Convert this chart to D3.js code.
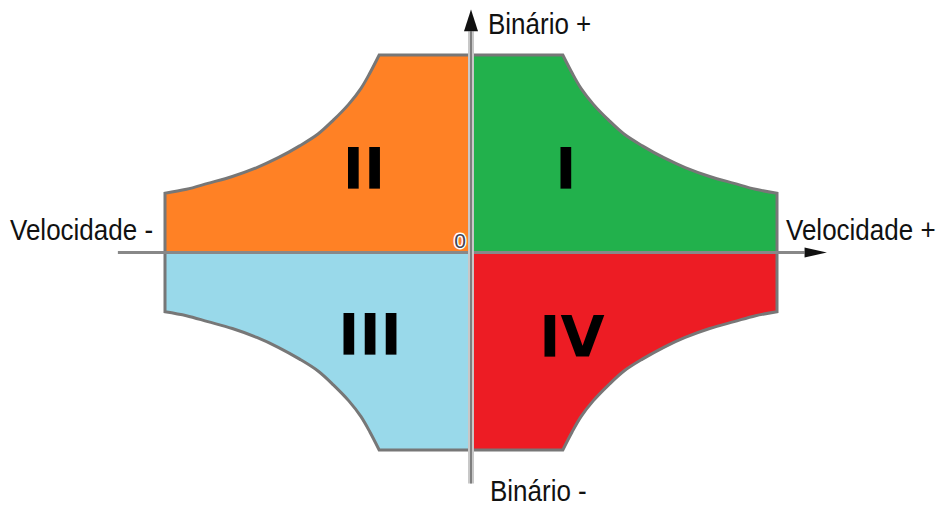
<!DOCTYPE html>
<html lang="pt">
<head>
<meta charset="UTF-8">
<title>Quatro quadrantes</title>
<script src="https://d3js.org/d3.v7.min.js"></script>
<style>
  body { margin: 0; background: #fff; }
  svg { display: block; font-family: "Liberation Sans", Arial, sans-serif; }
  .axis-label { font-size: 26px; fill: #111; }
  .quad-label { font-family: "DejaVu Sans", sans-serif; font-weight: bold; font-size: 57px; fill: #000; text-anchor: middle; }
</style>
</head>
<body>
<svg width="940" height="506"></svg>
<script>
// quadrants: speed sign, torque sign, label, colour
const quadrants = ["I", "II", "III", "IV"];
const speedSign = [1, -1, -1, 1];
const torqueSign = [1, 1, -1, -1];
const quadColors = ["#22b14c", "#ff8125", "#99d9ea", "#ed1c24"];

// torque envelope (per unit): flat torque then constant power
const envSpeed  = [0.30, 0.33, 0.36, 0.40, 0.45, 0.50, 0.56, 0.63, 0.70, 0.78, 0.86, 0.93, 1.00];
const envTorque = [1.00, 0.91, 0.83, 0.75, 0.67, 0.60, 0.54, 0.48, 0.43, 0.385, 0.35, 0.32, 0.30];

const axisTitles = { speedPos: "Velocidade +", speedNeg: "Velocidade -", torquePos: "Binário +", torqueNeg: "Binário -" };

const svg = d3.select("svg");

const x = d3.scaleLinear().domain([-1, 1]).range([165, 777]);
const y = d3.scaleLinear().domain([-1, 1]).range([450, 55]);

const curve = d3.line().curve(d3.curveCatmullRom).x(d => x(d[0])).y(d => y(d[1]));

function quadPoints(sx, sy) {
  return envSpeed.map((s, i) => [sx * s, sy * envTorque[i]]);
}

// fills
quadrants.forEach((q, i) => {
  const sx = speedSign[i], sy = torqueSign[i];
  const pts = quadPoints(sx, sy);
  const c = curve(pts).replace(/^M/, "L");
  const d = `M${x(0)},${y(0)} L${x(0)},${y(sy)} ${c} L${x(sx)},${y(0)} Z`;
  svg.append("path").attr("d", d).attr("fill", quadColors[i]);
});

// outline
quadrants.forEach((q, i) => {
  const sx = speedSign[i], sy = torqueSign[i];
  const pts = quadPoints(sx, sy);
  const c = curve(pts).replace(/^M/, "L");
  const d = `M${x(0)},${y(sy)} ${c} L${x(sx)},${y(0)}`;
  svg.append("path").attr("d", d)
    .attr("fill", "none")
    .attr("stroke", "#777")
    .attr("stroke-width", 3)
    .attr("stroke-linejoin", "miter");
});

// horizontal axis (speed)
svg.append("line")
  .attr("x1", x(-1.154)).attr("x2", x(1.09))
  .attr("y1", y(0)).attr("y2", y(0))
  .attr("stroke", "#888").attr("stroke-width", 3);
svg.append("path")
  .attr("d", `M${x(1.163)},${y(0)} L${x(1.09)},${y(0) - 5} L${x(1.09)},${y(0) + 5} Z`)
  .attr("fill", "#111");

// vertical axis (torque)
svg.append("line")
  .attr("x1", x(0)).attr("x2", x(0))
  .attr("y1", y(-1.17)).attr("y2", y(1.12))
  .attr("stroke", "#c8c8c8").attr("stroke-width", 6);
svg.append("line")
  .attr("x1", x(0)).attr("x2", x(0))
  .attr("y1", y(-1.17)).attr("y2", y(1.12))
  .attr("stroke", "#666").attr("stroke-width", 1.5);
svg.append("path")
  .attr("d", `M${x(0)},${y(1.23)} L${x(0) - 7},${y(1.12)} L${x(0) + 7},${y(1.12)} Z`)
  .attr("fill", "#111");

// origin mark
svg.append("text")
  .attr("x", x(0) - 5).attr("y", y(0) - 5)
  .attr("text-anchor", "end")
  .attr("font-size", "21px")
  .attr("fill", "#445")
  .attr("stroke", "#fff").attr("stroke-width", 3)
  .attr("paint-order", "stroke")
  .text("0");

// axis titles (slightly tall letters, as in the picture)
function title(txt, tx, ty) {
  svg.append("text")
    .attr("class", "axis-label")
    .attr("transform", `translate(${tx},${ty}) scale(1,1.12)`)
    .text(txt);
}
title(axisTitles.speedNeg, 10, 240);
title(axisTitles.speedPos, 786, 240);
title(axisTitles.torquePos, 488, 34);
title(axisTitles.torqueNeg, 490, 501);

// quadrant numerals
const labelSpeed = [0.31, -0.35, -0.33, 0.33];
const labelTorque = [0.32, 0.32, -0.52, -0.53];
quadrants.forEach((q, i) => {
  svg.append("text")
    .attr("class", "quad-label")
    .attr("x", x(labelSpeed[i]))
    .attr("y", y(labelTorque[i]))
    .text(q);
});
</script>
</body>
</html>
